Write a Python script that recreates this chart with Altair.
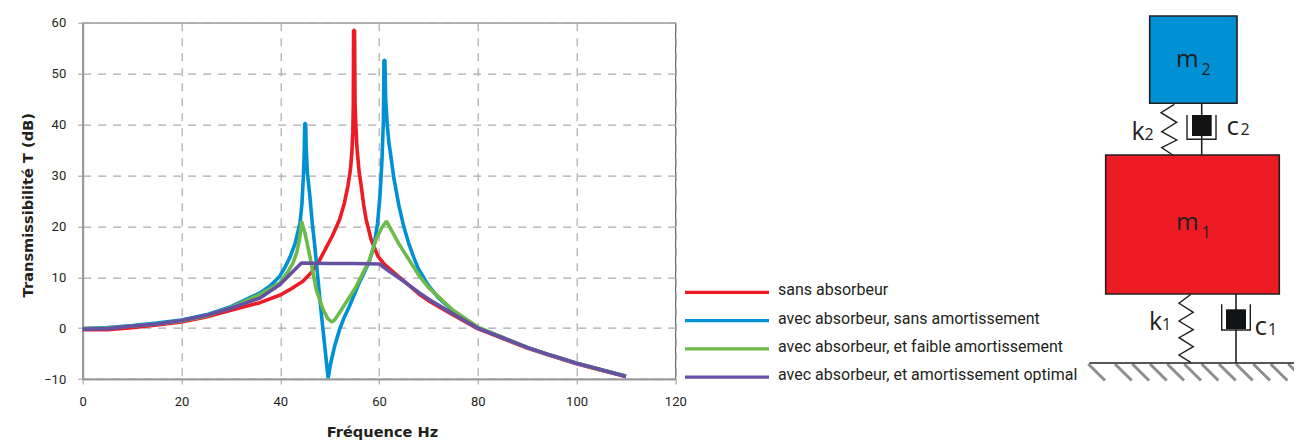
import altair as alt
import pandas as pd

# ---------- curves (Hz, dB) ----------
names = ["sans absorbeur", "avec absorbeur, sans amortissement",
         "avec absorbeur, et faible amortissement", "avec absorbeur, et amortissement optimal"]
colors = ["#ED1C24", "#0090D4", "#6CBB4A", "#6650A4"]

red_x = [0, 5, 10, 15, 20, 25, 30, 35.9, 40, 42, 44.6, 46.3, 48, 49.3, 50.5, 52, 53, 53.7, 54.2, 54.5, 54.7, 54.8, 54.85, 55.05, 55.15, 55.3, 55.5, 55.7, 56, 56.4, 56.9, 57.4, 58.4, 59.8, 61.1, 62.8, 65, 68.2, 70, 75, 80, 85, 90, 95, 100, 105, 110]
red_y = [-0.3, -0.3, 0.1, 0.6, 1.2, 2.2, 3.5, 5.0, 6.5, 7.6, 9.2, 10.9, 13.4, 15.8, 18, 21.3, 24.6, 27.9, 31, 34.4, 38.5, 44, 58.5, 58.5, 44, 40, 36, 33.6, 30.5, 27.9, 24.2, 21.3, 17.4, 14.1, 12.5, 11.1, 9.3, 6.6, 5.4, 2.6, -0.1, -2.0, -3.9, -5.5, -7.0, -8.3, -9.5]

blue_x = [0, 5, 10, 15, 20, 25, 30, 35.9, 38, 39.9, 41, 42, 43, 44, 44.4, 44.7, 44.85, 44.95, 45.15, 45.25, 45.5, 46, 46.5, 47, 48.3, 49.7, 50.2, 51, 52, 53, 54, 55, 56, 57, 58, 59, 59.7, 60.2, 60.6, 60.9, 61.0, 61.2, 61.35, 61.7, 62, 62.5, 63, 64, 65, 66, 67, 68, 69, 70, 72, 75, 77.5, 80, 85, 90, 95, 100, 105, 110]
blue_y = [-0.1, 0.1, 0.5, 1.0, 1.6, 2.6, 4.2, 6.9, 8.3, 10.2, 12, 14, 16.6, 20.6, 24.5, 30, 34, 40.2, 40.2, 35.5, 30.5, 25.9, 20.5, 16.1, 3, -9.8, -7, -3.6, -0.3, 2.2, 4.3, 6.6, 8.9, 10.9, 13, 16.3, 20.5, 26, 33, 41, 52.6, 52.6, 45, 39.5, 36.5, 33.1, 29.5, 24.2, 20, 16.7, 14, 11.6, 10, 8.4, 6, 3.4, 1.6, 0.1, -1.9, -3.8, -5.4, -6.9, -8.2, -9.4]

green_x = [0, 5, 10, 15, 20, 25, 30, 35.9, 39.9, 41.5, 42.6, 43.4, 44, 44.3, 45, 46, 47.3, 48.7, 49.6, 50.4, 51, 52, 55.4, 58.1, 59.4, 60.5, 61.5, 64, 68.2, 70, 75, 80, 85, 90, 95, 100, 105, 110]
green_y = [-0.1, 0, 0.4, 0.8, 1.4, 2.4, 4.0, 6.6, 8.9, 11, 12.8, 15, 18, 21.0, 18.7, 14.1, 7.5, 3.6, 1.9, 1.2, 1.6, 3, 8.2, 13.4, 17.4, 19.6, 21.0, 16.6, 10.2, 8, 3.5, 0.2, -1.8, -3.8, -5.4, -6.9, -8.2, -9.4]

purple_x = [0, 5, 10, 15, 20, 25, 30, 35.9, 39.9, 44.3, 50, 55, 60.1, 62, 65, 68.2, 70, 75, 80, 85, 90, 95, 100, 105, 110]
purple_y = [-0.2, -0.1, 0.4, 0.8, 1.5, 2.5, 3.9, 5.9, 8.5, 12.8, 12.7, 12.7, 12.6, 11.2, 9.2, 6.9, 5.7, 2.8, 0, -1.9, -3.8, -5.4, -6.9, -8.2, -9.5]

curves = pd.DataFrame(
    [{"f": x, "t": y, "s": n}
     for n, xs, ys in zip(names, [red_x, blue_x, green_x, purple_x], [red_y, blue_y, green_y, purple_y])
     for x, y in zip(xs, ys)]
)

# ---------- schematic, in picture coordinates ----------
rects = pd.DataFrame({
    "x": [1149.7, 1105.7], "x2": [1237, 1279.3],
    "y": [16, 155], "y2": [103.3, 294], "c": ["#0090D4", "#ED1C24"],
})
pistons = pd.DataFrame({"x": [1192, 1226], "x2": [1211.7, 1246], "y": [115, 309.3], "y2": [136, 329]})
springs = {
    "k2": [(1174.3, 104.3), (1161, 112.7), (1176.7, 122.3), (1161.7, 131.7), (1176.7, 140), (1161.7, 147.7), (1172.7, 155)],
    "k1": [(1191, 294.3), (1179, 303.3), (1193.3, 312.3), (1179, 321), (1193.3, 329.7), (1179, 337.7), (1193.3, 346.7), (1179, 355), (1191, 362.7)],
    "cup2": [(1187, 115), (1187, 139.3), (1216, 139.3), (1216, 115)],
    "cup1": [(1221.7, 304.3), (1221.7, 330), (1250.3, 330), (1250.3, 304.3)],
}
paths = pd.DataFrame([{"g": k, "i": i, "x": p[0], "y": p[1]} for k, v in springs.items() for i, p in enumerate(v)])
stems = pd.DataFrame({
    "x": [1201.7, 1236, 1089.3], "x2": [1201.7, 1236, 1296.7],
    "y": [103.3, 294, 363], "y2": [155, 363, 363],
})
hatch_start = [1088.3, 1115, 1132.3, 1150, 1167.3, 1184.3, 1201.7, 1219, 1236, 1253.3, 1270.7, 1288.3]
hatch = pd.DataFrame({"x": hatch_start, "x2": [v + 16.7 for v in hatch_start],
                      "y": [364] * 12, "y2": [380.5] * 12})
labels = pd.DataFrame([
    ("m", 1176, 66.7, 24.5), ("2", 1201.5, 75, 16),
    ("m", 1176, 230, 24.5), ("1", 1201.5, 238, 16),
    ("k", 1131.5, 140, 25), ("2", 1144.5, 140, 16),
    ("c", 1226.5, 135, 26), ("2", 1240.5, 135, 16),
    ("k", 1149, 330, 25), ("1", 1162, 330, 16),
    ("c", 1254.5, 335, 26), ("1", 1268, 335, 16),
], columns=["t", "x", "y", "s"])

PW, PH = 592.6, 356.3
L, T = 82.7, 22.7
X = alt.Scale(domain=[0, 1302], range=[-L, 1302 - L], nice=False, zero=False)
Y = alt.Scale(domain=[0, 441], range=[-T, 441 - T], nice=False, zero=False)
def px(f): return alt.X(f, type="quantitative", scale=X, axis=None)
def py(f): return alt.Y(f, type="quantitative", scale=Y, axis=None)
def x2(f): return alt.X2(f)
def y2(f): return alt.Y2(f)

FONT = "Roboto"
INK = "#231F20"
axis_style = dict(titleFont="DejaVu Sans", titleFontSize=14.6, titleFontWeight="bold", titleColor=INK,
                  titleBaseline="alphabetic", titleAlign="center",
                  labelFont=FONT, labelFontSize=13, labelColor=INK, labelFlush=False,
                  tickColor="#999999", tickSize=5, domainColor="#999999", domainWidth=2,
                  grid=True, gridColor="#ABABAB", gridDash=[8, 7], gridWidth=1.2)

lines = alt.Chart(curves).mark_line(strokeWidth=3.6, strokeJoin="bevel", strokeCap="butt").encode(
    x=alt.X("f:Q", scale=alt.Scale(domain=[0, 120], nice=False, zero=False),
            axis=alt.Axis(values=[0, 20, 40, 60, 80, 100, 120], title="Fréquence Hz", titleX=299.3, titleY=57.7,
                          labelPadding=11, **axis_style)),
    y=alt.Y("t:Q", scale=alt.Scale(domain=[-10, 60], nice=False, zero=False),
            axis=alt.Axis(values=[-10, 0, 10, 20, 30, 40, 50, 60], title="Transmissibilité T (dB)",
                          titleX=-50.5, titleY=182, titleAngle=270, labelPadding=12, **axis_style)),
    color=alt.Color("s:N", sort=names, scale=alt.Scale(domain=names, range=colors),
                    legend=alt.Legend(title=None, orient="none", legendX=636.3, legendY=259.5, padding=0,
                                      symbolType="M-14,0.7H14", symbolSize=36, symbolStrokeWidth=3.2,
                                      labelOffset=43, labelFont=FONT, labelFontSize=16, labelColor=INK,
                                      labelLimit=400, rowPadding=11.3)),
)

diagram = [
    alt.Chart(rects).mark_rect(stroke="#231F20", strokeWidth=1.6).encode(
        x=px("x"), x2=x2("x2"), y=py("y"), y2=y2("y2"), color=alt.Color("c:N", scale=None)),
    alt.Chart(hatch).mark_rule(stroke="#8C8F8F", strokeWidth=3).encode(x=px("x"), x2=x2("x2"), y=py("y"), y2=y2("y2")),
    alt.Chart(stems).mark_rule(stroke="#231F20", strokeWidth=1.6).encode(x=px("x"), x2=x2("x2"), y=py("y"), y2=y2("y2")),
    alt.Chart(paths).mark_line(stroke="#231F20", strokeWidth=1.4, strokeJoin="miter").encode(
        x=px("x"), y=py("y"), detail="g:N", order="i:Q"),
    alt.Chart(pistons).mark_rect(color="#101214").encode(x=px("x"), x2=x2("x2"), y=py("y"), y2=y2("y2")),
    alt.Chart(labels).mark_text(font="Open Sans", align="left", baseline="alphabetic", color="#231F20").encode(
        x=px("x"), y=py("y"), text="t:N", size=alt.Size("s:Q", scale=None)),
]

chart = alt.layer(lines, *diagram).resolve_scale(x="independent", y="independent", color="independent").properties(
    width=PW, height=PH,
    autosize=alt.AutoSizeParams(type="none"),
    padding={"left": L - 8, "top": T - 8, "right": 1286 - (L - 8) - PW, "bottom": 433 - (T - 8) - PH},
).configure_view(stroke="#666666", strokeWidth=1.2)

chart.save("out.html", embed_options={"renderer": "svg", "actions": False})
